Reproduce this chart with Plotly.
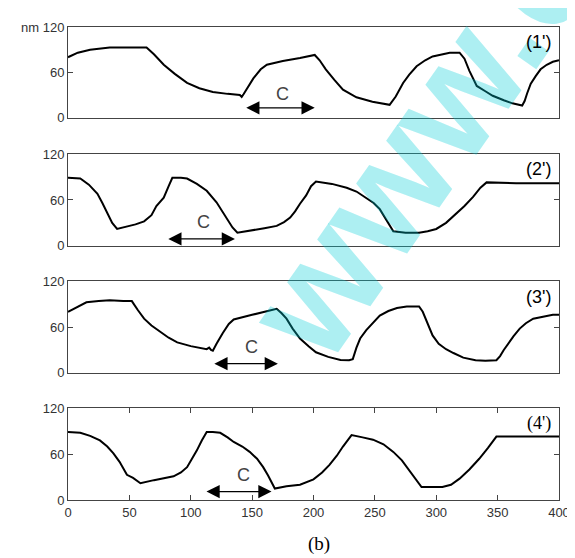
import plotly.graph_objects as go

# ---- data ----
x1 = [0,8,18,34,50,64,70,78,87,97,107,118,130,140,141.5,143,151,157,162,175,189,201,205,210,217,224,235,248,262,267,273,278,284,291,297,304,311,319,323,327,333,340,346,355,362,370,372,374,377,381,385,390,395,400]
y1 = [80,86,90,93,93,93,84,70,58,46,39,34,31.5,30,27.5,31,52,64,70,75,79,83,76,64,50,37,27,21,17,28,46,57,68,76,81,84,86,86,78,62,42,35,29,23,19,16,22,32,45,55,64,70,74,76]

x2 = [0,10,17,24,28,32,36,40,45,55,62,68,72,78,82,85,92,97,105,113,121,129,134,138,150,160,170,176,181,185,189,194,198,202,215,227,235,243,249,254,259,265,275,286,293,300,308,316,323,330,336,341,360,365,400]
y2 = [89,88,80,68,56,42,30,22,24,28,32,40,52,63,78,89,89,88,81,72,57,37,24,17,20,23,26,31,37,45,55,66,78,84,81,76,71,63,56,48,34,19,17,17,19,22,30,42,52,64,76,83,82,82,82]

x3 = [0,8,15,25,34,45,52,57,62,68,75,82,89,100,113,115,116.5,118,121,126,131,135,150,170,174,178,183,189,196,202,212,222,229,232,235,238,243,249,254,261,268,276,286,289,293,297,302,308,314,322,332,340,349,352,355,358,363,368,373,379,385,390,395,400]
y3 = [80,87,92.5,94,95,94,94,82,71,62,54,46,40,35,31,33,30,29,38,52,64,70,76,84,78,71,58,45,35,27,21,17,16.5,18,33,45,56,66,75,81,85,87,87,80,64,49,38,31,26,20,16.5,16,16.5,22,30,37,48,58,65,71,73,75,76,76]

x4 = [0,10,18,26,32,37,42,48,53,56,59,70,80,86,92,97,101,105,109,113,118,124,130,135,142,148,154,159,163,166,168.5,178,189,200,207,213,219,224,228,231,240,248.5,257,265,272,278,283,288,296,305,312,319,327,335,342,349,360,400]
y4 = [89,88,84,78,70,61,50,33,29,25,22,26,29,31,36,43,54,65,78,89,89,88,82,76,70,63,54,43,32,22,15,18,20,27,36,46,58,70,79,85,82,79,73,63,52,39,28,17,17,17,20,28,40,54,68,83,83,83]

panel_labels = ["(1')", "(2')", "(3')", "(4')"]
# double arrows "C": (start x, end x, y), label position (x, y)
arrow_x0 = [144, 80.5, 118, 111.6]
arrow_x1 = [201, 136, 171, 165.8]
arrow_y = [13, 9, 12, 11]
c_x = [175, 110, 149.6, 142.8]
c_y = [31, 31, 34, 32.6]

x_ticks = [0, 50, 100, 150, 200, 250, 300, 350, 400]
y_ticks = [0, 60, 120]

series = [(x1, y1), (x2, y2), (x3, y3), (x4, y4)]

# layout geometry (paper fractions)
domains = [[0.8083, 1.0], [0.5375, 0.73125], [0.26875, 0.4625], [0.0, 0.19375]]

fig = go.Figure()
for i, (xs, ys) in enumerate(series):
    k = "" if i == 0 else str(i + 1)
    fig.add_trace(go.Scatter(x=xs, y=ys, mode="lines",
                             line=dict(color="black", width=2),
                             xaxis="x" + k, yaxis="y" + k, showlegend=False,
                             hoverinfo="skip"))

axis_font = dict(family="Liberation Sans, Arial", size=13, color="#333")
layout = dict(
    width=575, height=558,
    margin=dict(l=60, r=24, t=12, b=66),
    plot_bgcolor="white", paper_bgcolor="white",
    showlegend=False,
)
for i in range(4):
    k = "" if i == 0 else str(i + 1)
    last = (i == 3)
    layout["xaxis" + k] = dict(
        domain=[0, 1], anchor="y" + k, range=[0, 400],
        showline=True, mirror="ticks" if last else True,
        linecolor="#444", linewidth=1, showgrid=False, zeroline=False,
        ticks="inside" if last else "", ticklen=5, tickcolor="#444",
        tickvals=x_ticks if last else [], showticklabels=last,
        tickfont=axis_font,
    )
    ticktext = [str(v) for v in y_ticks]
    if i == 0:
        ticktext[-1] = "nm 120"
    layout["yaxis" + k] = dict(
        domain=domains[i], anchor="x" + k, range=[0, 120],
        showline=True, mirror="ticks", linecolor="#444", linewidth=1,
        showgrid=False, zeroline=False,
        ticks="inside", ticklen=5, tickcolor="#444",
        tickvals=y_ticks, ticktext=ticktext, tickfont=axis_font,
    )
fig.update_layout(**layout)

annotations = []
# watermark
annotations.append(dict(
    xref="paper", yref="paper", x=(421 - 68) / 491, y=(500 - 135) / 480,
    text="<b>www.c</b>", showarrow=False, textangle=-55,
    font=dict(family="Liberation Sans, Arial", size=155, color="rgba(0,205,215,0.32)"),
    xanchor="center", yanchor="middle",
))
for i in range(4):
    k = "" if i == 0 else str(i + 1)
    xr, yr = "x" + k, "y" + k
    annotations.append(dict(
        xref=xr, yref=yr, x=arrow_x1[i], y=arrow_y[i],
        axref=xr, ayref=yr, ax=arrow_x0[i], ay=arrow_y[i],
        text="", showarrow=True, arrowhead=2, arrowside="end+start",
        arrowsize=2.2, arrowwidth=1.2, arrowcolor="black",
    ))
    annotations.append(dict(
        xref=xr, yref=yr, x=c_x[i], y=c_y[i], text="C", showarrow=False,
        font=dict(family="Liberation Sans, Arial", size=18, color="#444"),
    ))
    annotations.append(dict(
        xref=xr, yref=yr, x=395, y=100, text=panel_labels[i], showarrow=False,
        xanchor="right", yanchor="middle",
        font=dict(family="Liberation Serif, Times New Roman" if i == 3 else "Liberation Sans, Arial",
                  size=18, color="black"),
    ))
annotations.append(dict(
    xref="paper", yref="paper", x=(319 - 68) / 491, y=(500 - 545) / 480,
    text="(b)", showarrow=False, xanchor="center", yanchor="middle",
    font=dict(family="Liberation Serif, Times New Roman", size=19, color="black"),
))
fig.update_layout(annotations=annotations)

fig.write_html("out.html")
